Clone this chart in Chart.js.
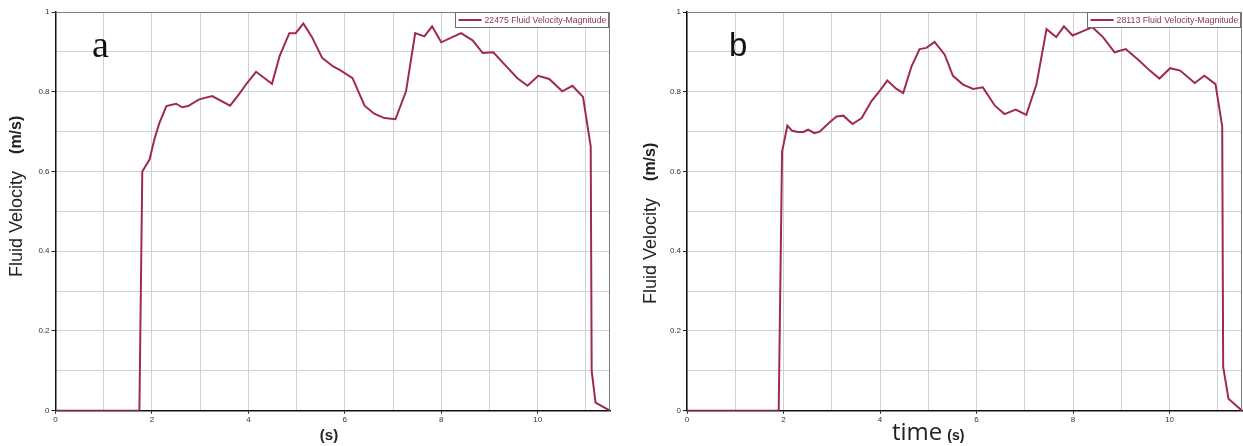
<!DOCTYPE html>
<html>
<head>
<meta charset="utf-8">
<script src="https://cdn.jsdelivr.net/npm/chart.js@4/dist/chart.umd.min.js"></script>
<style>
  html, body { margin: 0; padding: 0; background: #fff; }
  body { width: 1243px; height: 446px; position: relative; overflow: hidden; }
  .panel { position: absolute; top: 0; }
  #pa { left: 0; width: 612px; height: 446px; }
  #pb { left: 630px; width: 613px; height: 446px; }
</style>
</head>
<body>
<div class="panel" id="pa"><canvas id="ca" width="612" height="446"></canvas></div>
<div class="panel" id="pb"><canvas id="cb" width="613" height="446"></canvas></div>
<script>
// ---- data ----
const LEFT_T = [0, 1.74, 1.8, 1.95, 2.05, 2.15, 2.3, 2.5, 2.63, 2.75, 2.98, 3.25, 3.62, 3.8, 3.96, 4.16, 4.49, 4.65, 4.85, 4.98, 5.14, 5.32, 5.53, 5.75, 5.92, 6.16, 6.41, 6.61, 6.82, 7.05, 7.27, 7.46, 7.65, 7.81, 8.0, 8.41, 8.65, 8.86, 9.08, 9.34, 9.58, 9.79, 10.01, 10.24, 10.51, 10.72, 10.94, 11.1, 11.12, 11.2, 11.5];
const LEFT_V = [0, 0, 0.6, 0.63, 0.68, 0.72, 0.764, 0.77, 0.761, 0.764, 0.781, 0.789, 0.765, 0.793, 0.82, 0.85, 0.82, 0.89, 0.947, 0.947, 0.971, 0.937, 0.885, 0.864, 0.853, 0.834, 0.765, 0.745, 0.734, 0.731, 0.801, 0.947, 0.939, 0.964, 0.924, 0.947, 0.929, 0.897, 0.899, 0.865, 0.834, 0.815, 0.84, 0.832, 0.801, 0.815, 0.787, 0.663, 0.1, 0.02, 0];
const RIGHT_T = [0, 1.9, 1.97, 2.08, 2.18, 2.3, 2.41, 2.51, 2.64, 2.75, 2.95, 3.1, 3.24, 3.43, 3.62, 3.82, 3.98, 4.15, 4.34, 4.48, 4.65, 4.82, 4.96, 5.13, 5.34, 5.51, 5.72, 5.93, 6.13, 6.38, 6.58, 6.81, 7.03, 7.24, 7.45, 7.65, 7.81, 7.99, 8.17, 8.4, 8.62, 8.86, 9.09, 9.35, 9.59, 9.79, 10.01, 10.22, 10.52, 10.72, 10.95, 11.09, 11.11, 11.22, 11.5];
const RIGHT_V = [0, 0, 0.65, 0.715, 0.702, 0.699, 0.699, 0.705, 0.696, 0.70, 0.723, 0.738, 0.740, 0.719, 0.734, 0.776, 0.80, 0.828, 0.807, 0.797, 0.863, 0.907, 0.910, 0.925, 0.893, 0.840, 0.818, 0.807, 0.811, 0.765, 0.744, 0.755, 0.742, 0.818, 0.957, 0.937, 0.964, 0.941, 0.950, 0.962, 0.937, 0.899, 0.907, 0.880, 0.853, 0.833, 0.859, 0.853, 0.822, 0.840, 0.819, 0.713, 0.11, 0.03, 0];
const LEFT_LABEL = '22475 Fluid Velocity-Magnitude';
const RIGHT_LABEL = '28113 Fluid Velocity-Magnitude';
const X_TICKS = [0, 1, 2, 3, 4, 5, 6, 7, 8, 9, 10, 11];
const X_TICK_LABELS = ['0', '', '2', '', '4', '', '6', '', '8', '', '10', ''];
const Y_TICKS = [0, 0.1, 0.2, 0.3, 0.4, 0.5, 0.6, 0.7, 0.8, 0.9, 1];
const Y_TICK_LABELS = ['0', '', '0.2', '', '0.4', '', '0.6', '', '0.8', '', '1'];
const X_MAX = 11.5;

const LINE_COLOR = '#a02a4e';
const TICK_FONT = { family: 'Liberation Sans, Arial, sans-serif', size: 8 };

const decoPlugin = {
  id: 'deco',
  beforeDatasetsDraw(chart) {
    const { ctx, chartArea: a } = chart;
    ctx.save();
    ctx.strokeStyle = '#7c7c7c';
    ctx.lineWidth = 1;
    ctx.beginPath();
    ctx.moveTo(a.left, a.top + 0.5);
    ctx.lineTo(a.right - 0.5, a.top + 0.5);
    ctx.lineTo(a.right - 0.5, a.bottom);
    ctx.stroke();
    ctx.restore();
  },
  afterDraw(chart, args, o) {
    const { ctx, chartArea: a } = chart;
    ctx.save();
    // panel letter
    ctx.fillStyle = '#111';
    ctx.textBaseline = 'alphabetic';
    ctx.textAlign = 'left';
    ctx.font = o.letterFont;
    ctx.fillText(o.letter, o.letterX, o.letterY);

    // y title (rotated) : "Fluid Velocity" + bold "(m/s)"
    ctx.fillStyle = '#222';
    ctx.save();
    ctx.translate(o.yTitleX, o.yTitleBottom);
    ctx.rotate(-Math.PI / 2);
    ctx.textBaseline = 'middle';
    ctx.font = '18px "Liberation Sans", Arial, sans-serif';
    ctx.fillText('Fluid Velocity', 0, 0);
    const w1 = ctx.measureText('Fluid Velocity').width;
    ctx.font = 'bold 16px "Liberation Sans", Arial, sans-serif';
    ctx.fillText('(m/s)', w1 + o.yGap, 0);
    ctx.restore();

    // x title
    ctx.textBaseline = 'alphabetic';
    if (o.xMain) {
      ctx.font = '24px "Open Sans", "Liberation Sans", sans-serif';
      ctx.fillText(o.xMain, o.xTitleX, 440);
      const wm = ctx.measureText(o.xMain).width;
      ctx.font = 'bold 14px "Liberation Sans", Arial, sans-serif';
      ctx.fillText('(s)', o.xTitleX + wm + 5, 440);
    } else {
      ctx.font = 'bold 15px "Liberation Sans", Arial, sans-serif';
      ctx.textAlign = 'center';
      ctx.fillText('(s)', o.xTitleX, 440);
      ctx.textAlign = 'left';
    }

    // legend box (top-right inside plot)
    const label = chart.data.datasets[0].label;
    const bx = o.legendX + 0.5, by = a.top + 0.5, bw = a.right - o.legendX - 2, bh = 15;
    ctx.fillStyle = '#fff';
    ctx.fillRect(bx, by, bw, bh);
    ctx.strokeStyle = '#6e6e6e';
    ctx.lineWidth = 1;
    ctx.strokeRect(bx, by, bw, bh);
    ctx.strokeStyle = LINE_COLOR;
    ctx.lineWidth = 2;
    ctx.beginPath();
    ctx.moveTo(bx + 3, by + 7.5);
    ctx.lineTo(bx + 26, by + 7.5);
    ctx.stroke();
    let fs = 9.5;
    ctx.font = fs + 'px "Liberation Sans", Arial, sans-serif';
    const avail = bw - 31;
    const tw = ctx.measureText(label).width;
    if (tw > avail) {
      fs = fs * avail / tw;
      ctx.font = fs.toFixed(2) + 'px "Liberation Sans", Arial, sans-serif';
    }
    ctx.fillStyle = '#8c3454';
    ctx.textBaseline = 'middle';
    ctx.fillText(label, bx + 29, by + 8);
    ctx.restore();
  }
};

function makeChart(canvasId, T, V, label, yAxisWidth, padRight, deco) {
  const data = T.map((t, i) => ({ x: t, y: V[i] }));
  return new Chart(document.getElementById(canvasId), {
    type: 'line',
    data: {
      datasets: [{
        label: label,
        data: data,
        borderColor: LINE_COLOR,
        backgroundColor: LINE_COLOR,
        borderWidth: 2,
        pointRadius: 0,
        tension: 0,
        fill: false
      }]
    },
    options: {
      responsive: false,
      animation: false,
      devicePixelRatio: 1,
      layout: { padding: { top: 12, left: 0, right: padRight, bottom: 0 } },
      plugins: {
        legend: { display: false },
        tooltip: { enabled: false },
        deco: deco
      },
      scales: {
        x: {
          type: 'linear',
          min: 0,
          max: X_MAX,
          afterBuildTicks: (s) => { s.ticks = X_TICKS.map(v => ({ value: v })); },
          afterFit: (s) => { s.height = 35.3; },
          ticks: {
            autoSkip: false,
            maxRotation: 0,
            padding: 1,
            color: '#333',
            font: TICK_FONT,
            callback: (v, i) => X_TICK_LABELS[i]
          },
          grid: {
            color: '#d2d2d2',
            lineWidth: 1,
            tickLength: 3,
            tickColor: (c) => (c.tick && X_TICK_LABELS[X_TICKS.indexOf(c.tick.value)] ? '#222' : 'rgba(0,0,0,0)')
          },
          border: { color: '#111', width: 1.5 }
        },
        y: {
          type: 'linear',
          min: 0,
          max: 1,
          afterBuildTicks: (s) => { s.ticks = Y_TICKS.map(v => ({ value: v })); },
          afterFit: (s) => { s.width = yAxisWidth; },
          ticks: {
            autoSkip: false,
            padding: 2,
            color: '#333',
            font: TICK_FONT,
            callback: (v, i) => Y_TICK_LABELS[i]
          },
          grid: {
            color: '#d2d2d2',
            lineWidth: 1,
            tickLength: 4,
            tickColor: (c) => (c.tick && Y_TICK_LABELS[Y_TICKS.findIndex(v => Math.abs(v - c.tick.value) < 1e-6)] ? '#222' : 'rgba(0,0,0,0)')
          },
          border: { color: '#111', width: 1.5 }
        }
      }
    },
    plugins: [decoPlugin]
  });
}

makeChart('ca', LEFT_T, LEFT_V, LEFT_LABEL, 55.5, 2, {
  letter: 'a', letterFont: '38px "Liberation Serif", "Times New Roman", serif', letterX: 92, letterY: 57,
  yTitleX: 17, yTitleBottom: 277, yGap: 17,
  xMain: '', xTitleX: 329,
  legendX: 455
});
makeChart('cb', RIGHT_T, RIGHT_V, RIGHT_LABEL, 57, 1, {
  letter: 'b', letterFont: '33px "Liberation Sans", Arial, sans-serif', letterX: 99, letterY: 56,
  yTitleX: 21, yTitleBottom: 304, yGap: 17,
  xMain: 'time', xTitleX: 262,
  legendX: 457
});
</script>
</body>
</html>
